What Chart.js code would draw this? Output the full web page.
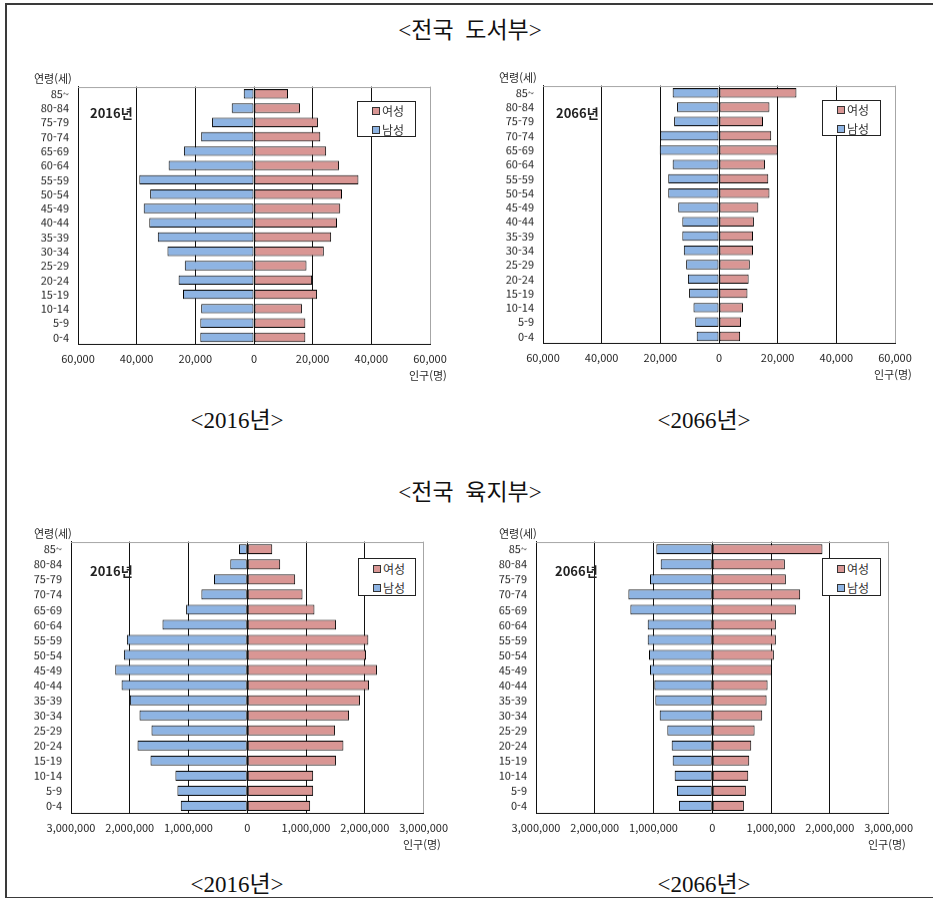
<!DOCTYPE html>
<html lang="ko">
<head>
<meta charset="utf-8">
<title>전국 도서부 / 육지부 인구 피라미드</title>
<script src="https://cdn.jsdelivr.net/npm/chart.js@4.4.1/dist/chart.umd.min.js"></script>
<style>
    html, body { margin: 0; padding: 0; background: #fff; }
    #page { position: relative; width: 933px; height: 898px; overflow: hidden; }
    #frame { position: absolute; left: 5px; top: 3px; width: 926px; height: 892px; border: 2px solid #3a3a3a; border-right: none; }
    .title { position: absolute; transform: translate(-50%, -50%); white-space: nowrap;
        font-family: 'Liberation Serif', 'DejaVu Serif', 'Noto Sans CJK KR', serif; font-size: 23px; color: #111; }
    .chart-canvas { position: absolute; }
    .note { position: absolute; white-space: nowrap; font-family: 'Noto Sans CJK KR', 'Noto Sans', sans-serif;
        font-size: 11px; color: #262626; line-height: 1; }
    .year { position: absolute; white-space: nowrap; font-family: 'Noto Sans CJK KR', 'Noto Sans', sans-serif;
        font-size: 13px; font-weight: bold; color: #222; line-height: 1; }
    .legend { position: absolute; background: #fff; border: 1px solid #222; box-sizing: border-box;
        font-family: 'Noto Sans CJK KR', 'Noto Sans', sans-serif; font-size: 12px; color: #333; }
    .legend-item { position: absolute; left: 14px; height: 14px; line-height: 14px; white-space: nowrap; }
    .legend-item i { display: inline-block; width: 6px; height: 6px; border: 1px solid #333;
        margin-right: 2px; vertical-align: 1px; }
</style>
</head>
<body>
<div id="page">
    <div id="frame"></div>
</div>
<script>
// Age groups from top of the pyramid to the bottom
const ageGroups = ['85~', '80-84', '75-79', '70-74', '65-69', '60-64', '55-59', '50-54', '45-49',
    '40-44', '35-39', '30-34', '25-29', '20-24', '15-19', '10-14', '5-9', '0-4'];

// 전국 도서부 (islands)
const islandMale2016 = [3500, 7600, 14300, 18000, 23900, 29100, 39100, 35400, 37600,
    35700, 32800, 29500, 23600, 25700, 24200, 18000, 18300, 18300];
const islandFemale2016 = [11600, 15700, 21800, 22600, 24600, 29000, 35600, 30000, 29400,
    28300, 26300, 23800, 17900, 19800, 21500, 16400, 17500, 17500];
const islandMale2066 = [15800, 14300, 15300, 20000, 20200, 15800, 17300, 17300, 13900,
    12500, 12500, 12000, 11200, 10600, 10200, 8700, 8100, 7600];
const islandFemale2066 = [26400, 17200, 15000, 17800, 20000, 15700, 16800, 17200, 13400,
    11900, 11600, 11600, 10500, 10100, 9700, 8200, 7500, 7200];

// 전국 육지부 (mainland)
const mainlandMale2016 = [141000, 289000, 566000, 781000, 1041000, 1443000, 2049000, 2100000, 2247000,
    2139000, 1998000, 1834000, 1630000, 1868000, 1647000, 1223000, 1189000, 1132000];
const mainlandFemale2016 = [425000, 560000, 815000, 940000, 1143000, 1511000, 2060000, 2021000, 2207000,
    2072000, 1919000, 1732000, 1494000, 1636000, 1511000, 1121000, 1121000, 1070000];
const mainlandMale2066 = [952000, 878000, 1060000, 1428000, 1394000, 1099000, 1099000, 1077000, 1060000,
    986000, 969000, 895000, 765000, 691000, 674000, 640000, 601000, 567000];
const mainlandFemale2066 = [1875000, 1235000, 1252000, 1496000, 1422000, 1082000, 1082000, 1048000, 1014000,
    941000, 924000, 850000, 720000, 663000, 629000, 612000, 572000, 538000];

// Axis ticks
const islandTicks = [-60000, -40000, -20000, 0, 20000, 40000, 60000];
const mainlandTicks = [-3000000, -2000000, -1000000, 0, 1000000, 2000000, 3000000];

const seriesNames = ['여성', '남성'];
const femaleColor = '#d99694';
const maleColor = '#8eb4e3';

Chart.defaults.font.family = "'Noto Sans CJK KR', 'Noto Sans', sans-serif";
Chart.defaults.font.size = 11;
Chart.defaults.color = '#222';

const page = document.getElementById('page');

function addText(cls, text, left, top, extra) {
    const el = document.createElement('div');
    el.className = cls;
    el.textContent = text;
    el.style.left = left + 'px';
    el.style.top = top + 'px';
    if (extra) Object.assign(el.style, extra);
    page.appendChild(el);
    return el;
}

// Gray line along the top of the plot area
const plotTopBorder = {
    id: 'plotTopBorder',
    beforeDatasetsDraw(chart) {
        const a = chart.chartArea;
        const ctx = chart.ctx;
        ctx.save();
        ctx.strokeStyle = '#a6a6a6';
        ctx.lineWidth = 1;
        ctx.beginPath();
        ctx.moveTo(a.left, Math.round(a.top) + 0.5);
        ctx.lineTo(a.right, Math.round(a.top) + 0.5);
        ctx.stroke();
        ctx.restore();
    }
};

// One pyramid: plot = inner plot area on the page
function drawPyramid(plot, men, women, ticks, year, legendPos, ageLabelRight) {
    const axisW = 50, padTop = 8, padRight = 32, axisH = 36;
    const canvas = document.createElement('canvas');
    canvas.className = 'chart-canvas';
    canvas.width = axisW + plot.w + padRight;
    canvas.height = padTop + plot.h + axisH;
    page.appendChild(canvas);

    const tMin = ticks[0], tMax = ticks[ticks.length - 1];

    const chart = new Chart(canvas.getContext('2d'), {
        type: 'bar',
        data: {
            labels: ageGroups,
            datasets: [
                { label: seriesNames[0], data: women, backgroundColor: femaleColor },
                { label: seriesNames[1], data: men.map(v => -v), backgroundColor: maleColor }
            ]
        },
        options: {
            indexAxis: 'y',
            responsive: false,
            maintainAspectRatio: false,
            animation: false,
            layout: { padding: { top: padTop, right: padRight, left: 0, bottom: 0 } },
            datasets: {
                bar: {
                    borderColor: '#000',
                    borderWidth: 1,
                    borderSkipped: false,
                    categoryPercentage: 1,
                    barPercentage: 0.66
                }
            },
            plugins: { legend: { display: false }, tooltip: { enabled: false } },
            scales: {
                x: {
                    type: 'linear',
                    min: tMin,
                    max: tMax,
                    afterBuildTicks: s => { s.ticks = ticks.map(v => ({ value: v })); },
                    afterFit: s => { s.height = axisH; },
                    grid: {
                        drawTicks: false,
                        color: c => (c.tick && c.tick.value === tMax) ? '#a6a6a6' : '#111',
                        lineWidth: 1
                    },
                    border: { display: true, color: '#111' },
                    ticks: {
                        padding: 8,
                        maxRotation: 0,
                        callback: v => Math.abs(v).toLocaleString('en-US')
                    }
                },
                y: {
                    stacked: true,
                    afterFit: s => { s.width = axisW; },
                    grid: { display: false, drawTicks: false },
                    border: { display: true, color: '#111' },
                    ticks: { padding: 9, autoSkip: false }
                }
            }
        },
        plugins: [plotTopBorder]
    });

    // Chart.js may add its own padding; grow the canvas so the plot area is exactly plot.h tall
    const extraH = plot.h - (chart.chartArea.bottom - chart.chartArea.top);
    if (extraH !== 0) chart.resize(canvas.width, canvas.height + extraH);
    canvas.style.top = (plot.y - chart.chartArea.top) + 'px';
    canvas.style.left = (plot.x - chart.chartArea.left) + 'px';

    // Axis titles and year label
    const ageEl = addText('note', '연령(세)', 0, plot.y - 14);
    ageEl.style.left = (ageLabelRight - ageEl.offsetWidth) + 'px';
    const popEl = addText('note', '인구(명)', 0, plot.y + plot.h + 26);
    popEl.style.left = (plot.x + plot.w + 17 - popEl.offsetWidth) + 'px';
    addText('year', year, plot.x + legendPos.yearDx, plot.y + legendPos.yearDy);

    // Legend built from the chart's datasets
    const lg = document.createElement('div');
    lg.className = 'legend';
    lg.style.left = legendPos.x + 'px';
    lg.style.top = legendPos.y + 'px';
    lg.style.width = legendPos.w + 'px';
    lg.style.height = legendPos.h + 'px';
    chart.data.datasets.forEach(function(ds, i) {
        const item = document.createElement('div');
        item.className = 'legend-item';
        item.style.top = (legendPos.h / 2 - 16 + i * 19) + 'px';
        const sw = document.createElement('i');
        sw.style.background = ds.backgroundColor;
        item.appendChild(sw);
        item.appendChild(document.createTextNode(ds.label));
        lg.appendChild(item);
    });
    page.appendChild(lg);
    return chart;
}

// Section titles
addText('title', '<전국 도서부>', 470, 28, { wordSpacing: '6px' });
addText('title', '<2016년>', 237, 418);
addText('title', '<2066년>', 704, 418);
addText('title', '<전국 육지부>', 470, 490, { wordSpacing: '6px' });
addText('title', '<2016년>', 237, 882);
addText('title', '<2066년>', 704, 882);

drawPyramid({ x: 78, y: 87, w: 352, h: 257 }, islandMale2016, islandFemale2016, islandTicks, '2016년',
    { x: 357, y: 101, w: 59, h: 36, yearDx: 12, yearDy: 19 }, 72);
drawPyramid({ x: 543, y: 86, w: 352, h: 257 }, islandMale2066, islandFemale2066, islandTicks, '2066년',
    { x: 822, y: 100, w: 59, h: 36, yearDx: 13, yearDy: 20 }, 537);
drawPyramid({ x: 71, y: 542, w: 353, h: 271 }, mainlandMale2016, mainlandFemale2016, mainlandTicks, '2016년',
    { x: 358, y: 558, w: 58, h: 38, yearDx: 19, yearDy: 22 }, 72);
drawPyramid({ x: 536, y: 542, w: 353, h: 271 }, mainlandMale2066, mainlandFemale2066, mainlandTicks, '2066년',
    { x: 822, y: 558, w: 59, h: 38, yearDx: 19, yearDy: 22 }, 537);
</script>
</body>
</html>
